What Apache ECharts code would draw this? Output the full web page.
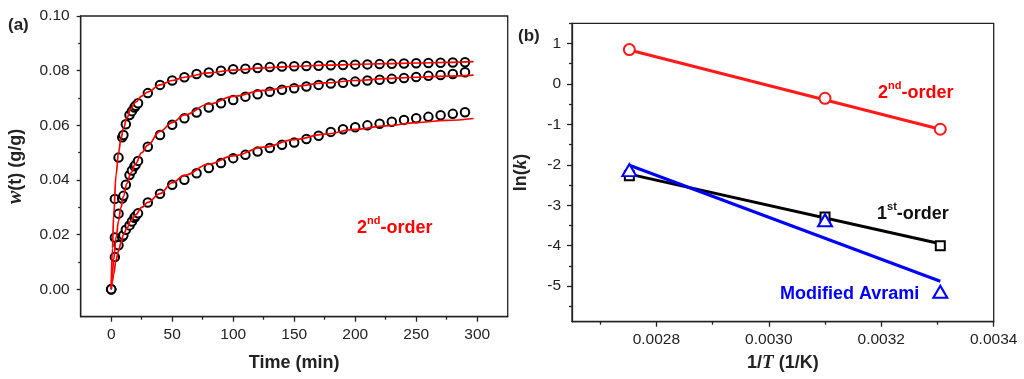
<!DOCTYPE html>
<html>
<head>
<meta charset="utf-8">
<script src="https://cdn.jsdelivr.net/npm/echarts@6/dist/echarts.min.js"></script>
<style>
html,body{margin:0;padding:0;background:#fff;}
#c{width:1024px;height:379px;}
</style>
</head>
<body>
<div id="c"></div>
<script>
// ---------- Panel (a) data ----------
const times = [0,3,6,9,10,12,15,17,19,20,22,30,40,50,60,70,80,90,100,110,120,130,140,150,160,170,180,190,200,210,220,230,240,250,260,270,280,290];
const wTop = [0,0.0331,0.0482,0.0556,0.0565,0.0604,0.0638,0.0652,0.0665,0.0672,0.0681,0.0718,0.0748,0.0764,0.0776,0.0788,0.0793,0.0800,0.0805,0.0807,0.0810,0.0813,0.0815,0.0816,0.0817,0.0818,0.0820,0.0821,0.0822,0.0823,0.0824,0.0825,0.0826,0.0827,0.0828,0.0829,0.0830,0.0831];
const wMid = [0,0.0190,0.0277,0.0332,0.0342,0.0383,0.0418,0.0435,0.0450,0.0456,0.0470,0.0522,0.0565,0.0602,0.0626,0.0647,0.0665,0.0681,0.0693,0.0705,0.0714,0.0723,0.0730,0.0736,0.0742,0.0748,0.0753,0.0756,0.0760,0.0764,0.0767,0.0770,0.0773,0.0777,0.0781,0.0784,0.0788,0.0794];
const wBot = [0,0.0118,0.0161,0.0192,0.0198,0.0218,0.0234,0.0248,0.0262,0.0268,0.0278,0.0318,0.0350,0.0383,0.0401,0.0425,0.0444,0.0462,0.0480,0.0492,0.0504,0.0517,0.0529,0.0537,0.0550,0.0562,0.0576,0.0586,0.0593,0.0600,0.0606,0.0613,0.0620,0.0626,0.0631,0.0637,0.0642,0.0648];
const fitTimes = [0,1,2,4,6,8,10,13,16,20,25,30,40,50,60,80,100,125,150,175,200,225,250,275,297];
const fitTop = [0,0.0150,0.0270,0.0420,0.0500,0.0550,0.0590,0.0628,0.0660,0.0685,0.0707,0.0722,0.0748,0.0764,0.0776,0.0792,0.0802,0.0810,0.0816,0.0820,0.0823,0.0826,0.0828,0.0830,0.0833];
const fitMid = [0,0.0058,0.0110,0.0190,0.0250,0.0300,0.0340,0.0388,0.0425,0.0460,0.0500,0.0528,0.0578,0.0610,0.0638,0.0678,0.0706,0.0728,0.0743,0.0755,0.0764,0.0771,0.0776,0.0780,0.0784];
const fitBot = [0,0.0030,0.0055,0.0108,0.0140,0.0170,0.0200,0.0225,0.0250,0.0273,0.0300,0.0318,0.0350,0.0390,0.0417,0.0458,0.0488,0.0520,0.0548,0.0568,0.0585,0.0598,0.0610,0.0618,0.0625];
const xTicksA = [0,50,100,150,200,250,300];
const xMinorA = [25,75,125,175,225,275];
const yTicksA = [0,0.02,0.04,0.06,0.08,0.10];
const yMinorA = [0.01,0.03,0.05,0.07,0.09];

// ---------- Panel (b) data ----------
const invT = [0.002752,0.003100,0.003305];
const lnk2nd = [0.85,-0.355,-1.12];
const lnk1st = [-2.27,-3.29,-4.00];
const lnkAvrami = [-2.13,-3.37,-5.14];
const fitX = [0.002752,0.003305];
const fit2nd = [0.84,-1.12];
const fit1st = [-2.23,-3.95];
const fitAvrami = [-2.01,-4.88];
const xTicksB = [0.0028,0.0030,0.0032,0.0034];
const xMinorB = [0.0027,0.0029,0.0031,0.0033];
const yTicksB = [1,0,-1,-2,-3,-4,-5];
const yMinorB = [1.5,0.5,-0.5,-1.5,-2.5,-3.5,-4.5,-5.5];

const pair = (xs, ys) => xs.map((x, i) => [x, ys[i]]);
const FONT = 'Liberation Sans, Arial, sans-serif';
const AX = '#222';
const lineStyle = {color: AX, width: 1.3};

function mainAxis(extra) {
  return Object.assign({
    type: 'value',
    axisLine: {show: true, onZero: false, lineStyle},
    axisTick: {show: true, inside: false, length: 5, lineStyle},
    axisLabel: {fontFamily: FONT, fontSize: 15.5, color: '#222'},
    splitLine: {show: false}
  }, extra);
}
function minorAxis(extra) {
  return Object.assign({
    type: 'value',
    axisLine: {show: false, onZero: false},
    axisTick: {show: true, inside: false, length: 3, lineStyle},
    axisLabel: {show: false},
    splitLine: {show: false}
  }, extra);
}

const chart = echarts.init(document.getElementById('c'), null, {renderer: 'canvas'});
const option = {
  animation: false,
  backgroundColor: '#fff',
  grid: [
    {left: 80.7, top: 16, width: 427, height: 300.7, show: true, borderColor: AX, borderWidth: 1.3, backgroundColor: 'transparent', containLabel: false, outerBoundsMode: 'none'},
    {left: 572, top: 23.3, width: 421.7, height: 298.4, show: true, borderColor: AX, borderWidth: 1.3, backgroundColor: 'transparent', containLabel: false, outerBoundsMode: 'none'}
  ],
  xAxis: [
    mainAxis({gridIndex: 0, min: -25, max: 325,
      axisTick: {show: true, length: 5, lineStyle, customValues: xTicksA},
      axisLabel: {fontFamily: FONT, fontSize: 15.5, color: '#222', margin: 10, customValues: xTicksA},
      name: 'Time (min)', nameLocation: 'middle', nameGap: 37,
      nameTextStyle: {fontFamily: FONT, fontSize: 18, fontWeight: 'bold', color: '#222'}}),
    minorAxis({gridIndex: 0, min: -25, max: 325, position: 'bottom', axisTick: {show: true, length: 3, lineStyle, customValues: xMinorA}}),
    mainAxis({gridIndex: 1, min: 0.00265, max: 0.0034,
      axisTick: {show: true, length: 5, lineStyle, customValues: xTicksB},
      axisLabel: {fontFamily: FONT, fontSize: 15.5, color: '#222', margin: 10, customValues: xTicksB,
        formatter: v => v.toFixed(4)},
      name: '{n|1/}{i|T}{n| (1/K)}', nameLocation: 'middle', nameGap: 32,
      nameTextStyle: {rich: {
        n: {fontFamily: FONT, fontSize: 18, fontWeight: 'bold', color: '#222'},
        i: {fontFamily: 'Liberation Serif, serif', fontSize: 19, fontStyle: 'italic', fontWeight: 'bold', color: '#222'}
      }}}),
    minorAxis({gridIndex: 1, min: 0.00265, max: 0.0034, position: 'bottom', axisTick: {show: true, length: 3, lineStyle, customValues: xMinorB}})
  ],
  yAxis: [
    mainAxis({gridIndex: 0, min: -0.01, max: 0.10,
      axisTick: {show: true, length: 4, lineStyle, customValues: yTicksA},
      axisLabel: {fontFamily: FONT, fontSize: 15.5, color: '#222', margin: 11, customValues: yTicksA,
        formatter: v => v.toFixed(2)},
      name: '{i|w}{n|(t) (g/g)}', nameLocation: 'middle', nameGap: 55, nameRotate: 90,
      nameTextStyle: {rich: {
        n: {fontFamily: FONT, fontSize: 18, fontWeight: 'bold', color: '#222'},
        i: {fontFamily: 'Liberation Serif, serif', fontSize: 20, fontStyle: 'italic', fontWeight: 'bold', color: '#222'}
      }}}),
    minorAxis({gridIndex: 0, min: -0.01, max: 0.10, position: 'left', axisTick: {show: true, length: 2.5, lineStyle, customValues: yMinorA}}),
    mainAxis({gridIndex: 1, min: -5.88, max: 1.5,
      axisTick: {show: true, length: 5, lineStyle, customValues: yTicksB},
      axisLabel: {fontFamily: FONT, fontSize: 15.5, color: '#222', margin: 11, customValues: yTicksB},
      name: '{n|ln(}{i|k}{n|)}', nameLocation: 'middle', nameGap: 41, nameRotate: 90,
      nameTextStyle: {rich: {
        n: {fontFamily: FONT, fontSize: 18, fontWeight: 'bold', color: '#222'},
        i: {fontFamily: 'Liberation Serif, serif', fontSize: 19, fontStyle: 'italic', fontWeight: 'bold', color: '#222'}
      }}}),
    minorAxis({gridIndex: 1, min: -5.88, max: 1.5, position: 'left', axisTick: {show: true, length: 3, lineStyle, customValues: yMinorB}})
  ],
  series: [
    // panel (a) experimental points
    ...[wTop, wMid, wBot].map(arr => ({
      type: 'scatter', xAxisIndex: 0, yAxisIndex: 0, data: pair(times, arr),
      symbol: 'emptyCircle', symbolSize: 8.5,
      itemStyle: {color: '#000', borderWidth: 1.8, opacity: 1}, z: 2
    })),
    // panel (a) 2nd-order fits
    ...[fitTop, fitMid, fitBot].map(arr => ({
      type: 'line', xAxisIndex: 0, yAxisIndex: 0, data: pair(fitTimes, arr),
      showSymbol: false, smooth: 0.4, smoothMonotone: 'x',
      lineStyle: {color: '#ff0000', width: 1.7}, z: 3
    })),
    // panel (b) fit lines
    {type: 'line', xAxisIndex: 2, yAxisIndex: 2, data: pair(fitX, fit2nd), showSymbol: false, lineStyle: {color: '#ff1a1a', width: 3}, z: 2},
    {type: 'line', xAxisIndex: 2, yAxisIndex: 2, data: pair(fitX, fit1st), showSymbol: false, lineStyle: {color: '#000', width: 3}, z: 2},
    {type: 'line', xAxisIndex: 2, yAxisIndex: 2, data: pair(fitX, fitAvrami), showSymbol: false, lineStyle: {color: '#0000ff', width: 3}, z: 2},
    // panel (b) points
    {type: 'scatter', xAxisIndex: 2, yAxisIndex: 2, data: pair(invT, lnk1st), symbol: 'emptyRect', symbolSize: 9,
      itemStyle: {color: '#000', borderWidth: 2, opacity: 1}, z: 4},
    {type: 'scatter', xAxisIndex: 2, yAxisIndex: 2, data: pair(invT, lnkAvrami), symbol: 'emptyTriangle', symbolSize: [14, 12],
      itemStyle: {color: '#0000ff', borderWidth: 2, opacity: 1}, z: 5},
    {type: 'scatter', xAxisIndex: 2, yAxisIndex: 2, data: pair(invT, lnk2nd), symbol: 'emptyCircle', symbolSize: 11,
      itemStyle: {color: '#ff1a1a', borderWidth: 2.2, opacity: 1}, z: 4}
  ],
  graphic: [
    {type: 'text', x: 8, y: 25, style: {text: '(a)', font: 'bold 17px ' + FONT, fill: '#222', verticalAlign: 'middle'}},
    {type: 'text', x: 518, y: 36, style: {text: '(b)', font: 'bold 17px ' + FONT, fill: '#222', verticalAlign: 'middle'}},
    {type: 'text', x: 357, y: 226, style: {
      text: '{b|2}{s|nd}{b|-order}', verticalAlign: 'middle',
      rich: {b: {font: 'bold 18px ' + FONT, fill: '#ff0000', lineHeight: 22, verticalAlign: 'bottom'},
             s: {font: 'bold 11px ' + FONT, fill: '#ff0000', lineHeight: 22, verticalAlign: 'top'}}}},
    {type: 'text', x: 878, y: 91, style: {
      text: '{b|2}{s|nd}{b|-order}', verticalAlign: 'middle',
      rich: {b: {font: 'bold 18px ' + FONT, fill: '#ff0000', lineHeight: 22, verticalAlign: 'bottom'},
             s: {font: 'bold 11px ' + FONT, fill: '#ff0000', lineHeight: 22, verticalAlign: 'top'}}}},
    {type: 'text', x: 877, y: 212, style: {
      text: '{b|1}{s|st}{b|-order}', verticalAlign: 'middle',
      rich: {b: {font: 'bold 18px ' + FONT, fill: '#111', lineHeight: 22, verticalAlign: 'bottom'},
             s: {font: 'bold 11px ' + FONT, fill: '#111', lineHeight: 22, verticalAlign: 'top'}}}},
    {type: 'text', x: 780, y: 294, style: {text: 'Modified Avrami', font: 'bold 18px ' + FONT, fill: '#0000ff', verticalAlign: 'middle'}}
  ]
};
chart.setOption(option);
</script>
</body>
</html>
